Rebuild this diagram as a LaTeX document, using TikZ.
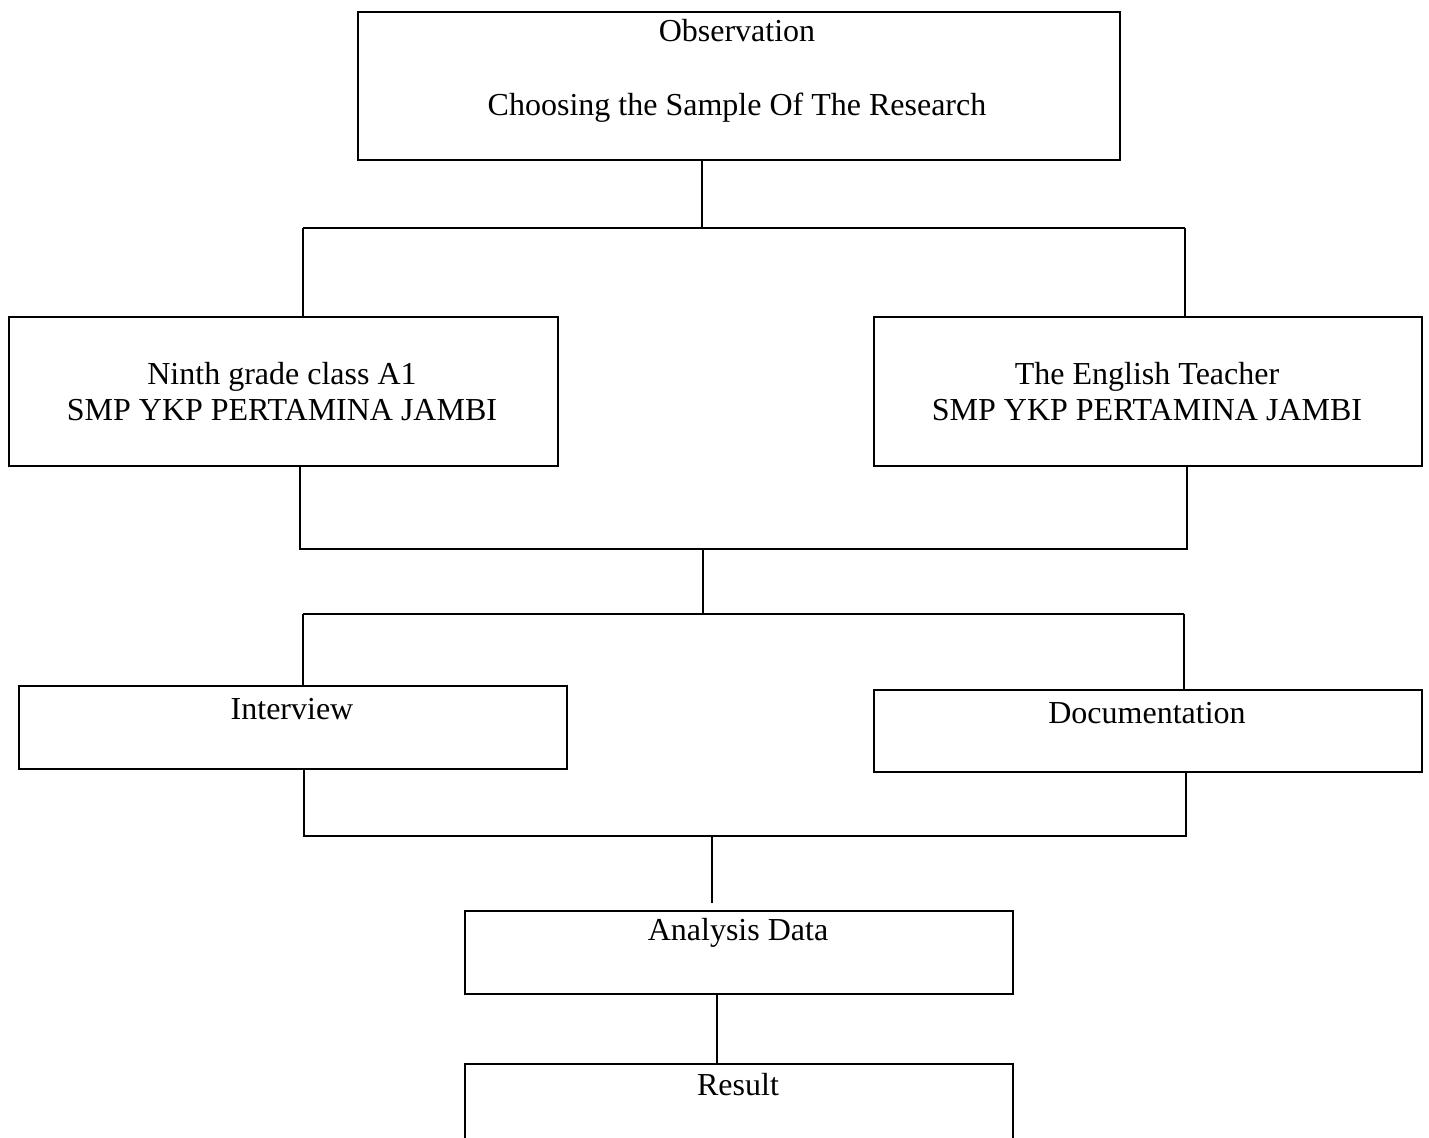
\documentclass[tikz,border=0pt]{standalone}
\usepackage{fontspec}
\setmainfont{Liberation Serif}
\begin{document}
\begin{tikzpicture}[x=0.5pt,y=-0.5pt,
  box/.style={draw,line width=1.1pt,rectangle,inner sep=0pt,anchor=north west},
  txt/.style={anchor=base,inner sep=0pt,font=\fontsize{16}{19}\selectfont},
  conn/.style={line width=0.8pt}]
\useasboundingbox (0,0) rectangle (1429,1137);
\clip (0,0) rectangle (1429,1137);
% boxes
\node[box,minimum width=381pt,minimum height=74pt] (obs) at (357,11) {};
\node[box,minimum width=274.5pt,minimum height=74.5pt] (ninth) at (8,316) {};
\node[box,minimum width=274pt,minimum height=74.5pt] (teacher) at (873,316) {};
\node[box,minimum width=274pt,minimum height=41.5pt] (interview) at (18,685) {};
\node[box,minimum width=274pt,minimum height=41pt] (doc) at (873,689) {};
\node[box,minimum width=274pt,minimum height=41.5pt] (analysis) at (464,910) {};
\node[box,minimum width=274pt,minimum height=60pt] (result) at (464,1063) {};
% texts
\node[txt] (t1) at (737,41) {Observation};
\node[txt] (t2) at (737,115) {Choosing the Sample Of The Research};
\node[txt] (t3) at (282,384) {Ninth grade class A1};
\node[txt] (t4) at (282,420) {SMP YKP PERTAMINA JAMBI};
\node[txt] (t5) at (1147,384) {The English Teacher};
\node[txt] (t6) at (1147,420) {SMP YKP PERTAMINA JAMBI};
\node[txt] (t7) at (292,719) {Interview};
\node[txt] (t8) at (1147,723) {Documentation};
\node[txt] (t9) at (738,940) {Analysis Data};
\node[txt] (t10) at (738,1095) {Result};
% junction coordinates
\coordinate (a0) at (702,228);
\coordinate (aL) at (303,228);
\coordinate (aR) at (1185,228);
\coordinate (bL) at (300,549);
\coordinate (bR) at (1187,549);
\coordinate (bC) at (703,549);
\coordinate (cC) at (703,615);
\coordinate (cL) at (303,614);
\coordinate (cR) at (1184,614);
\coordinate (dL) at (304,836);
\coordinate (dR) at (1186,836);
\coordinate (dC) at (712,836);
\coordinate (eC) at (712,903);
% connectors
\draw[conn] (obs.south -| a0) -- (a0);
\draw[conn] (aL) -- (aR);
\draw[conn] (aL) -- (aL |- ninth.north);
\draw[conn] (aR) -- (aR |- teacher.north);
\draw[conn] (bL |- ninth.south) -- (bL) -- (bR) -- (bR |- teacher.south);
\draw[conn] (bC) -- (cC);
\draw[conn] (cL) -- (cR);
\draw[conn] (cL) -- (cL |- interview.north);
\draw[conn] (cR) -- (cR |- doc.north);
\draw[conn] (dL |- interview.south) -- (dL) -- (dR) -- (dR |- doc.south);
\draw[conn] (dC) -- (eC);
\draw[conn] (analysis.south -| 717,0) -- (result.north -| 717,0);
\end{tikzpicture}
\end{document}
